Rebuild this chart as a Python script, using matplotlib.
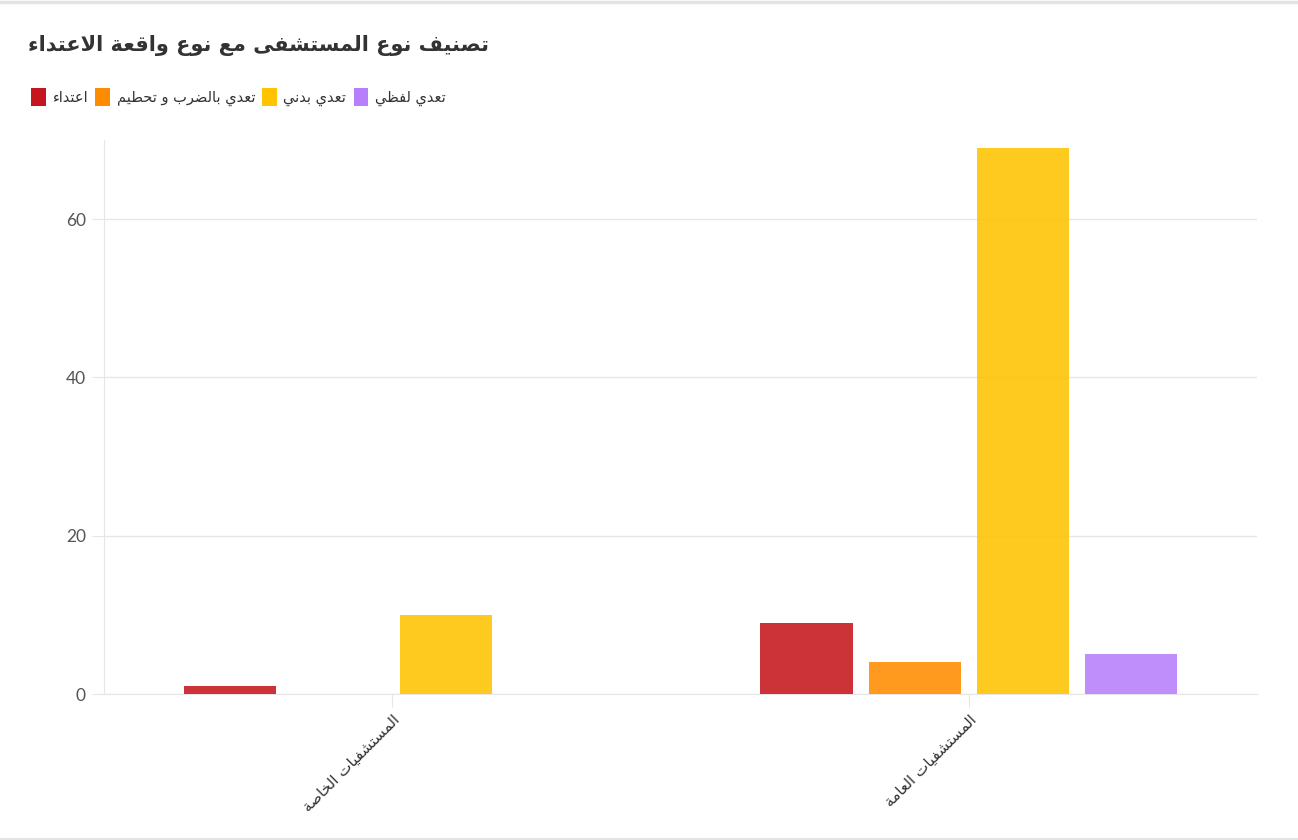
import numpy as np
import matplotlib.pyplot as plt
from matplotlib.patches import Patch
from matplotlib.lines import Line2D

# data
categories = ['المستشفيات الخاصة', 'المستشفيات العامة']
series = ['اعتداء', 'تعدي بالضرب و تحطيم', 'تعدي بدني', 'تعدي لفظي']
values = {
    'اعتداء': [1, 9],
    'تعدي بالضرب و تحطيم': [0, 4],
    'تعدي بدني': [10, 69],
    'تعدي لفظي': [0, 5],
}
yticks = [0, 20, 40, 60]
title = 'تصنيف نوع المستشفى مع نوع واقعة الاعتداء'

colors = ['#c4161c', '#ff8c00', '#ffc300', '#b77ffb']

# small arabic shaper: matplotlib does not join arabic letters or do rtl
FORMS = {
    'ء': (0xFE80, 1), 'ا': (0xFE8D, 2), 'ب': (0xFE8F, 4), 'ة': (0xFE93, 2),
    'ت': (0xFE95, 4), 'ح': (0xFEA1, 4), 'خ': (0xFEA5, 4), 'د': (0xFEA9, 2),
    'ر': (0xFEAD, 2), 'س': (0xFEB1, 4), 'ش': (0xFEB5, 4), 'ص': (0xFEB9, 4),
    'ض': (0xFEBD, 4), 'ط': (0xFEC1, 4), 'ظ': (0xFEC5, 4), 'ع': (0xFEC9, 4),
    'ف': (0xFED1, 4), 'ق': (0xFED5, 4), 'ل': (0xFEDD, 4), 'م': (0xFEE1, 4),
    'ن': (0xFEE5, 4), 'و': (0xFEED, 2), 'ى': (0xFEEF, 2), 'ي': (0xFEF1, 4),
}


def ar(text):
    out = []
    i = 0
    n = len(text)
    while i < n:
        c = text[i]
        if c not in FORMS:
            out.append(c)
            i += 1
            continue
        prev = text[i - 1] if i > 0 else ''
        jp = prev in FORMS and FORMS[prev][1] == 4 and FORMS[c][1] >= 2
        if c == 'ل' and i + 1 < n and text[i + 1] == 'ا':
            out.append(chr(0xFEFC if jp else 0xFEFB))
            i += 2
            continue
        nxt = text[i + 1] if i + 1 < n else ''
        jn = FORMS[c][1] == 4 and nxt in FORMS and FORMS[nxt][1] >= 2
        if jp and jn:
            k = 3
        elif jp:
            k = 1
        elif jn:
            k = 2
        else:
            k = 0
        out.append(chr(FORMS[c][0] + k))
        i += 1
    return ''.join(out[::-1])


fig = plt.figure(figsize=(12.98, 8.4), dpi=100)
ax = fig.add_axes([0.0801, 0.1738, 0.8883, 0.6595])

x = np.arange(len(categories)) + 0.5
step = 0.1875
width = 0.16
for j, s in enumerate(series):
    ax.bar(x + (j - 1.5) * step, values[s], width, color=colors[j], alpha=0.88,
           linewidth=0, zorder=3)

ax.set_xlim(0, 2)
ax.set_ylim(0, 70)
ax.set_yticks(yticks)
ax.set_yticklabels([str(t) for t in yticks], fontfamily='Lato', fontsize=12.5, color='#555555')
ax.set_xticks(x)
ax.set_xticklabels([ar(c) for c in categories], rotation=45, ha='right', va='top',
                   rotation_mode='anchor', fontfamily='DejaVu Sans', fontsize=11,
                   color='#333333')
ax.tick_params(axis='x', length=9, color='#e6e6e6', pad=4)
ax.tick_params(axis='y', length=9, color='#e6e6e6', pad=4)
ax.grid(axis='y', color='#e6e6e6', linewidth=1, zorder=0)
for side in ['top', 'right']:
    ax.spines[side].set_visible(False)
ax.spines['left'].set_color('#e6e6e6')
ax.spines['bottom'].set_color('#e6e6e6')

fig.text(0.0216, 0.946, ar(title), fontfamily='DejaVu Sans', fontweight='bold',
         fontsize=15, color='#333333', ha='left', va='center')

handles = [Patch(facecolor=colors[j], edgecolor='none') for j in range(len(series))]
fig.legend(handles, [ar(s) for s in series], loc='center left',
           bbox_to_anchor=(0.014, 0.884), ncol=4, frameon=False,
           handlelength=1.0, handleheight=1.5, handletextpad=0.45, columnspacing=0.5,
           prop={'family': 'DejaVu Sans', 'size': 10.5}, labelcolor='#333333')

# thin frame lines at top and bottom of the card
fig.add_artist(Line2D([0, 1], [0.998, 0.998], color='#e3e3e3', linewidth=2.5))
fig.add_artist(Line2D([0, 1], [0.001, 0.001], color='#e3e3e3', linewidth=1.5))

fig.savefig('out.png', dpi=100, facecolor='white')
